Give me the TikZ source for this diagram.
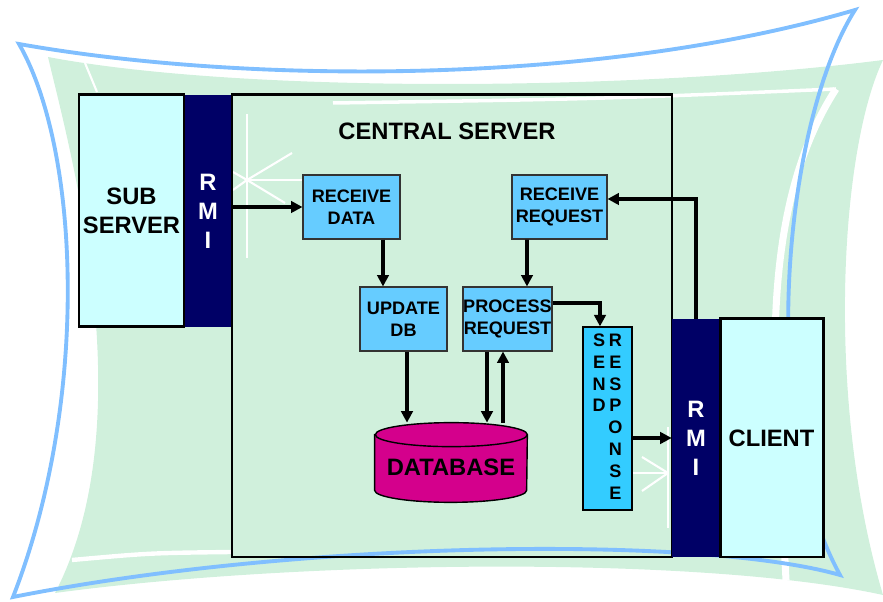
\documentclass[tikz,border=0pt]{standalone}
\usepackage{fontspec}
\setmainfont{Liberation Sans}
\usetikzlibrary{arrows.meta}

\definecolor{frameblue}{HTML}{80BFFF}
\definecolor{bggreen}{HTML}{D0F0DC}
\definecolor{boxblue}{HTML}{66CCFF}
\definecolor{sendblue}{HTML}{33CCFF}
\definecolor{hostcyan}{HTML}{CCFFFF}
\definecolor{rminavy}{HTML}{000066}
\definecolor{dbpink}{HTML}{D4008C}

\begin{document}
\begin{tikzpicture}[
	host/.style={draw, line width=1.7pt, fill=hostcyan, minimum width=2.1cm, minimum height=4.64cm, inner sep=0pt, align=center, font=\fontsize{13.5}{16.5}\selectfont\bfseries},
	rmi/.style={fill=rminavy, text=white, minimum width=0.96cm, inner sep=0pt, align=center, font=\fontsize{13.5}{16.5}\selectfont\bfseries},
	task/.style={draw=black!80, line width=0.6pt, fill=boxblue, minimum width=1.9cm, minimum height=1.28cm, inner sep=0pt, align=center, font=\fontsize{10.3}{12.5}\selectfont\bfseries},
	title/.style={font=\fontsize{13.5}{16.5}\selectfont\bfseries},
	arr/.style={-{Triangle[length=6.5pt,width=6.5pt]}, line width=2.1pt},
	deco/.style={white, line width=1.2pt}
]
\useasboundingbox (0,0) rectangle (17.66,12.04);

% backdrop
\begin{scope}
	\clip (0,0) rectangle (17.66,12.04);
	\fill[bggreen] (0.96,10.9) .. controls (5.0,10.14) and (13.0,10.24) .. (17.66,10.84)
		.. controls (16.8,9.04) and (16.5,4.04) .. (17.66,0.14)
		.. controls (14.0,0.94) and (6.0,0.84) .. (1.1,0.18)
		.. controls (2.9,3.64) and (1.4,9.04) .. cycle;
	\draw[deco, line width=2pt] (6.66,9.98) .. controls (12.0,10.06) .. (16.72,10.26);
	\draw[deco, line width=4pt] (16.72,10.26) .. controls (15.8,8.84) and (15.4,6.84) .. (15.52,4.04)
		.. controls (15.6,2.44) and (15.68,1.24) .. (15.72,0.44);
	\draw[deco, line width=2.5pt] (1.44,0.84) .. controls (3.0,0.98) .. (4.64,1.0);
	\draw[deco] (1.7,10.78) -- (1.94,10.2);
	\draw[frameblue, line width=2.2pt, line join=miter] (0.38,11.16) .. controls (5.0,10.34) and (12.0,10.34) .. (17.1,11.84)
		.. controls (15.7,9.64) and (15.1,3.64) .. (16.8,0.54)
		.. controls (14.0,1.34) and (6.0,1.24) .. (0.26,0.1)
		.. controls (1.8,4.04) and (1.6,9.04) .. cycle;
	\draw[deco] (4.94,9.76) -- (4.94,6.88);
	\foreach \tip in {(5.84,8.98), (6.06,8.44), (5.7,7.98), (4.66,8.24), (4.66,8.6)}
		\draw[deco] (4.94,8.44) -- \tip;
	\draw[deco] (13.36,3.5) -- (13.36,1.48);
	\foreach \tip in {(12.84,2.9), (12.64,2.58), (12.84,2.22)}
		\draw[deco] (13.36,2.58) -- \tip;
\end{scope}

\node[rmi, minimum height=4.64cm] (rmiL) at (4.16,7.82) {R\\M\\I};
\node[host] (sub) at (2.63,7.82) {SUB\\SERVER};
\node[draw, line width=1.7pt, minimum width=8.8cm, minimum height=9.24cm] (central) at (9.04,5.52) {};
\node[title] (centralLabel) at (8.94,9.42) {CENTRAL SERVER};

\node[task, minimum width=1.94cm] (recvData) at (7.03,7.9) {RECEIVE\\DATA};
\node[task] (recvReq) at (11.19,7.9) {RECEIVE\\REQUEST};
\node[task, minimum width=1.74cm] (updDB) at (8.07,5.66) {UPDATE\\DB};
\node[task, minimum width=1.78cm] (procReq) at (10.15,5.66) {PROCESS\\REQUEST};
\node[draw, line width=0.7pt, fill=sendblue, minimum width=0.98cm, minimum height=3.66cm, inner sep=0pt, font=\fontsize{10.3}{12.4}\selectfont\bfseries] (send) at (12.15,3.67)
	{\begin{tabular}{@{}c@{\hspace{1.5pt}}c@{}}S&R\\E&E\\N&S\\D&P\\&O\\&N\\&S\\&E\end{tabular}};

% database drum
\node[minimum width=3.04cm, minimum height=1.58cm, inner sep=0pt] (db) at (9.02,2.79) {};
\filldraw[fill=dbpink, line width=0.8pt] ([yshift=-0.24cm]db.north west) -- ([yshift=0.24cm]db.south west)
	arc[start angle=180, end angle=360, x radius=1.52cm, y radius=0.24cm] -- ([yshift=-0.24cm]db.north east)
	arc[start angle=0, end angle=180, x radius=1.52cm, y radius=0.24cm] -- cycle;
\draw[line width=0.8pt] ([yshift=-0.24cm]db.north east) arc[start angle=0, end angle=-180, x radius=1.52cm, y radius=0.24cm];
\node[title] (dbLabel) at (9.02,2.7) {DATABASE};

\node[rmi, minimum height=4.76cm] (rmiR) at (13.92,3.28) {R\\M\\I};
\node[host, minimum width=2.06cm, minimum height=4.76cm] (client) at (15.43,3.28) {CLIENT};

\draw[arr] (rmiL.east |- recvData.west) -- (recvData.west);
\draw[arr] ([xshift=0.63cm]recvData.south) -- ([xshift=-0.41cm]updDB.north);
\draw[arr] ([xshift=-0.65cm]recvReq.south) -- ([xshift=0.39cm]procReq.north);
\draw[arr] ([xshift=0.07cm]updDB.south) -- ([xshift=0.07cm]updDB.south |- db.north);
\draw[arr] ([xshift=-0.41cm]procReq.south) -- ([xshift=-0.41cm]procReq.south |- db.north);
\draw[arr] ([xshift=-0.09cm]procReq.south |- db.north) -- ([xshift=-0.09cm]procReq.south);
\draw[arr] ([yshift=0.32cm]procReq.east) -| ([xshift=-0.15cm]send.north);
\draw[arr] (send.east |- rmiR.west) -- (rmiR.west);
\draw[arr] (rmiR.north) |- ([yshift=0.16cm]recvReq.east);
\end{tikzpicture}
\end{document}
